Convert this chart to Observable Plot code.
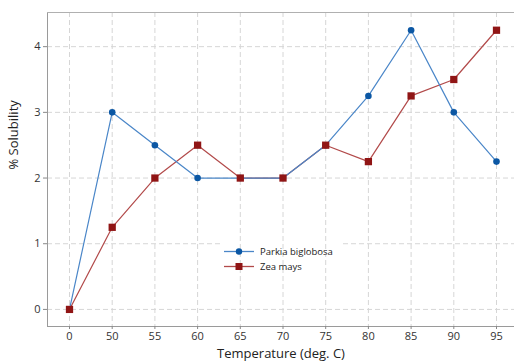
<!DOCTYPE html>
<html>
<head>
<meta charset="utf-8">
<script src="https://cdn.jsdelivr.net/npm/d3@7"></script>
<script src="https://cdn.jsdelivr.net/npm/@observablehq/plot@0.6"></script>
<style>
  html, body { margin: 0; padding: 0; background: #fff; }
  #chart svg { display: block; }
</style>
</head>
<body>
<div id="chart"></div>
<script>
// Data
const temperatures = ["0", "50", "55", "60", "65", "70", "75", "80", "85", "90", "95"];
const parkia = [0, 3, 2.5, 2, 2, 2, 2.5, 3.25, 4.25, 3, 2.25];
const zea = [0, 1.25, 2, 2.5, 2, 2, 2.5, 2.25, 3.25, 3.5, 4.25];
const yTicks = [0, 1, 2, 3, 4];
const seriesNames = ["Parkia biglobosa", "Zea mays"];

const blueLine = "#4a86c8", blueDot = "#0b57a4";
const redLine = "#b24a4a", redDot = "#901515";
const font = "'Open Sans', 'Noto Sans', sans-serif";

const rows = [];
temperatures.forEach((t, i) => {
  rows.push({t, v: parkia[i], s: seriesNames[0]});
  rows.push({t, v: zea[i], s: seriesNames[1]});
});
const pRows = rows.filter(d => d.s === seriesNames[0]);
const zRows = rows.filter(d => d.s === seriesNames[1]);

const W = 514, H = 364;
const mL = 47, mT = 12, mB = 38, mR = 0;

// legend occluder + legend (layout, not data)
function legendBack(index, scales, values, dims) {
  const g = d3.create("svg:g");
  g.append("rect").attr("x", 220).attr("y", 238).attr("width", 122).attr("height", 10).attr("fill", "#fff");
  return g.node();
}
function legend(index, scales, values, dims) {
  const g = d3.create("svg:g").attr("font-family", font).attr("font-size", 9.5)
    .attr("fill", "#222").attr("text-anchor", "start");
  const items = [
    {name: seriesNames[0], line: blueLine, dot: blueDot, sym: "circle", y: 251.5},
    {name: seriesNames[1], line: redLine, dot: redDot, sym: "square", y: 266.5}
  ];
  for (const it of items) {
    g.append("line").attr("x1", 224).attr("x2", 254).attr("y1", it.y).attr("y2", it.y)
      .attr("stroke", it.line).attr("stroke-width", 1.3);
    if (it.sym === "circle") {
      g.append("circle").attr("cx", 239).attr("cy", it.y).attr("r", 3.2).attr("fill", it.dot);
    } else {
      g.append("rect").attr("x", 235.5).attr("y", it.y - 3.5).attr("width", 7).attr("height", 7).attr("fill", it.dot);
    }
    g.append("text").attr("x", 260).attr("y", it.y).attr("dy", "0.35em").text(it.name);
  }
  return g.node();
}

const chart = Plot.plot({
  width: W,
  height: H,
  marginLeft: mL,
  marginTop: mT,
  marginBottom: mB,
  marginRight: mR,
  style: {fontFamily: font, background: "#fff"},
  x: {type: "point", domain: temperatures, range: [69, 496], padding: 0, round: false},
  y: {domain: [-0.26, 4.52]},
  marks: [
    // horizontal grid
    Plot.ruleY(yTicks, {stroke: "#d6d6d6", strokeDasharray: "5,3", strokeWidth: 1}),
    legendBack,
    // vertical grid
    Plot.ruleX(temperatures, {stroke: "#d6d6d6", strokeDasharray: "5,3", strokeWidth: 1}),
    // frame lines
    Plot.frame({anchor: "left", stroke: "#9a9a9a"}),
    Plot.frame({anchor: "bottom", stroke: "#9a9a9a"}),
    Plot.frame({anchor: "top", stroke: "#b0b0b0"}),
    // axes
    Plot.axisY(yTicks, {tickSize: 4, tickPadding: 3, fontSize: 11, fill: "#333", stroke: "#888", label: null, tickFormat: d => String(d)}),
    Plot.axisX(temperatures, {tickSize: 3, tickPadding: 3, fontSize: 11, fill: "#333", stroke: "#888", label: null}),
    Plot.text(["Temperature (deg. C)"], {frameAnchor: "bottom", dy: 31, fontSize: 13, fill: "#222", fontWeight: 500}),
    Plot.text(["% Solubility"], {frameAnchor: "left", rotate: -90, dx: -34, fontSize: 13, fill: "#222", fontWeight: 500}),
    // series
    Plot.line(zRows, {x: "t", y: "v", stroke: redLine, strokeWidth: 1.2}),
    Plot.line(pRows, {x: "t", y: "v", stroke: blueLine, strokeWidth: 1.2}),
    Plot.dot(pRows, {x: "t", y: "v", r: 3.3, fill: blueDot, symbol: "circle"}),
    Plot.dot(zRows, {x: "t", y: "v", r: 4.1, fill: redDot, symbol: "square"}),
    legend
  ]
});
document.getElementById("chart").appendChild(chart);
</script>
</body>
</html>
